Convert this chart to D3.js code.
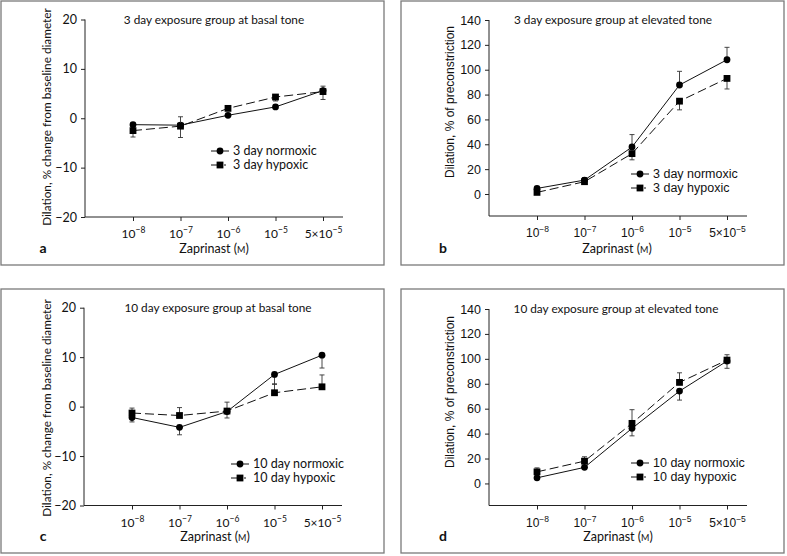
<!DOCTYPE html>
<html>
<head>
<meta charset="utf-8">
<script src="https://cdn.jsdelivr.net/npm/d3@7"></script>
<style>
  body { margin: 0; background: #fff; }
  text { fill: #111; }
</style>
</head>
<body>
<script>
// concentrations (x categories) and tick labels
let concs = ["1e-8", "1e-7", "1e-6", "1e-5", "5e-5"];
let tickBase = ["10", "10", "10", "10", "5\u00d710"];
let tickExp = ["\u22128", "\u22127", "\u22126", "\u22125", "\u22125"];

// panel a: 3 day, basal tone  (err = [down, up])
let aNorm = [-1.3, -1.4, 0.6, 2.3, 5.6];
let aNormErr = [[0, 0.3], [0, 0.3], [0, 0.2], [0, 0.3], [0, 0.9]];
let aHyp = [-2.5, -1.6, 2.0, 4.3, 5.4];
let aHypErr = [[1.3, 0], [2.3, 1.9], [0, 0.4], [0.8, 0], [1.6, 0]];

// panel b: 3 day, elevated tone
let bNorm = [4.5, 11.2, 37.8, 87.7, 108];
let bNormErr = [[0, 1], [0, 2], [0, 10], [0, 11], [0, 10]];
let bHyp = [1.3, 9.9, 32.5, 74.7, 93];
let bHypErr = [[1, 0], [1, 0], [5, 0], [7, 0], [8.5, 0]];

// panel c: 10 day, basal tone
let cNorm = [-2.2, -4.2, -1.0, 6.5, 10.4];
let cNormErr = [[0.9, 0], [1.5, 0], [1.3, 0], [2.0, 0], [2.6, 0]];
let cHyp = [-1.3, -1.8, -0.9, 2.8, 4.0];
let cHypErr = [[0, 1.0], [0, 1.6], [0, 1.8], [0, 1.8], [0, 2.4]];

// panel d: 10 day, elevated tone
let dNorm = [4.5, 12.9, 44.2, 74.1, 98.2];
let dNormErr = [[1.5, 0], [1.0, 0], [6, 0], [7.2, 0], [5.8, 0]];
let dHyp = [9.3, 17.9, 48.2, 81.1, 99];
let dHypErr = [[0, 3.2], [0, 3.5], [0, 11], [0, 7.7], [0, 4.3]];

let basalTicks = [-20, -10, 0, 10, 20];
let elevTicks = [0, 20, 40, 60, 80, 100, 120, 140];

let width = 787, height = 556;
let svg = d3.select("body").append("svg")
    .attr("width", width).attr("height", height);

let panels = [
  { x: 1, y: 1, letter: "a", title: "3 day exposure group at basal tone", day: 3,
    yLabel: "Dilation, % change from baseline diameter", ax: 84, top: 18.5, bottom: 216,
    domain: [-20, 20], ticks: basalTicks, font: "Lato", ylSize: 11.8, tx: 213, ty: 23, ylx: 46, yly: 116,
    legX: 219, legY: 150, xtx: 213,
    norm: aNorm, normErr: aNormErr, hyp: aHyp, hypErr: aHypErr },
  { x: 401, y: 1, letter: "b", title: "3 day exposure group at elevated tone", day: 3,
    yLabel: "Dilation, % of preconstriction", ax: 88, top: 19, bottom: 215,
    domain: [-17.7, 140], ticks: elevTicks, font: "Liberation Sans", ylSize: 12, tx: 212, ty: 23, ylx: 49, yly: 101,
    legX: 239, legY: 173, xtx: 216,
    norm: bNorm, normErr: bNormErr, hyp: bHyp, hypErr: bHypErr },
  { x: 1, y: 289, letter: "c", title: "10 day exposure group at basal tone", day: 10,
    yLabel: "Dilation, % change from baseline diameter", ax: 83, top: 18.7, bottom: 216.5,
    domain: [-20, 20], ticks: basalTicks, font: "Lato", ylSize: 11.8, tx: 217, ty: 23, ylx: 46, yly: 119,
    legX: 239, legY: 175, xtx: 214,
    norm: cNorm, normErr: cNormErr, hyp: cHyp, hypErr: cHypErr },
  { x: 401, y: 289, letter: "d", title: "10 day exposure group at elevated tone", day: 10,
    yLabel: "Dilation, % of preconstriction", ax: 88, top: 20, bottom: 216.5,
    domain: [-17.7, 140], ticks: elevTicks, font: "Liberation Sans", ylSize: 12, tx: 215, ty: 24, ylx: 49, yly: 103,
    legX: 239, legY: 174, xtx: 217,
    norm: dNorm, normErr: dNormErr, hyp: dHyp, hypErr: dHypErr }
];

panels.forEach(drawPanel);

function drawPanel(p) {
  let g = svg.append("g").attr("transform", "translate(" + p.x + "," + p.y + ")");

  g.append("rect").attr("x", 0).attr("y", 0).attr("width", 383).attr("height", 264)
    .attr("fill", "none").attr("stroke", "#7a7a7a").attr("stroke-width", 1.3);

  let xScale = d3.scalePoint().domain(concs).range([p.ax + 48, p.ax + 238]);
  let yScale = d3.scaleLinear().domain(p.domain).range([p.bottom, p.top]);

  // y axis
  let yAxis = d3.axisLeft(yScale).tickValues(p.ticks).tickSize(4).tickPadding(4)
    .tickFormat((d) => d < 0 ? "\u2212" + Math.abs(d) : d);
  let yg = g.append("g").attr("transform", "translate(" + p.ax + ",0)").call(yAxis);
  yg.select(".domain").remove();
  yg.selectAll("line").attr("stroke", "#222");
  yg.selectAll("text").style("font-family", p.font).style("font-size", "12.5px").attr("fill", "#111");
  g.append("line").attr("x1", p.ax).attr("x2", p.ax).attr("y1", yScale(p.domain[1])).attr("y2", p.bottom)
    .attr("stroke", "#222");

  // x axis
  let xAxis = d3.axisBottom(xScale).tickSize(4).tickPadding(5).tickFormat("");
  let xg = g.append("g").attr("transform", "translate(0," + p.bottom + ")").call(xAxis);
  xg.select(".domain").remove();
  xg.selectAll("line").attr("stroke", "#222");
  g.append("line").attr("x1", p.ax).attr("x2", p.ax + 258).attr("y1", p.bottom).attr("y2", p.bottom)
    .attr("stroke", "#222");
  xg.selectAll(".tick").append("text")
    .attr("y", 21).attr("text-anchor", "middle")
    .style("font-family", p.font).style("font-size", "12px").attr("fill", "#111")
    .each(function (d, i) {
      let t = d3.select(this);
      t.append("tspan").text(tickBase[i]);
      t.append("tspan").attr("dy", -5).style("font-size", "8.5px").text(tickExp[i]);
    });

  // title, labels
  g.append("text").attr("x", p.tx).attr("y", p.ty).attr("text-anchor", "middle")
    .style("font-family", "Lato").style("font-size", "11.8px").text(p.title);
  g.append("text").attr("transform", "translate(" + p.ylx + "," + p.yly + ") rotate(-90)")
    .attr("text-anchor", "middle").attr("dy", "0.35em")
    .style("font-family", p.font).style("font-size", p.ylSize + "px").text(p.yLabel);
  let xt = g.append("text").attr("x", p.xtx).attr("y", 252).attr("text-anchor", "middle")
    .style("font-family", "Lato").style("font-size", "12.5px");
  xt.append("tspan").text("Zaprinast (");
  xt.append("tspan").style("font-size", "9px").text("M");
  xt.append("tspan").text(")");
  g.append("text").attr("x", 42).attr("y", 252).attr("text-anchor", "middle")
    .style("font-family", "Lato").style("font-size", "14px").style("font-weight", "bold").text(p.letter);

  let series = [
    { vals: p.norm, err: p.normErr, dash: null, shape: "circle", name: p.day + " day normoxic" },
    { vals: p.hyp, err: p.hypErr, dash: "9,4", shape: "square", name: p.day + " day hypoxic" }
  ];

  let line = d3.line().x((d, i) => xScale(concs[i])).y((d) => yScale(d));

  series.forEach((s) => {
    // error bars
    let eb = g.append("g");
    s.vals.forEach((v, i) => {
      let x = xScale(concs[i]);
      let lo = v - s.err[i][0], hi = v + s.err[i][1];
      if (hi - lo <= 0) return;
      eb.append("line").attr("x1", x).attr("x2", x).attr("y1", yScale(lo)).attr("y2", yScale(hi))
        .attr("stroke", "#333").attr("stroke-width", 0.9);
      [lo, hi].forEach((e) => {
        if (e === v) return;
        eb.append("line").attr("x1", x - 2.5).attr("x2", x + 2.5).attr("y1", yScale(e)).attr("y2", yScale(e))
          .attr("stroke", "#333").attr("stroke-width", 0.9);
      });
    });
    g.append("path").datum(s.vals).attr("d", line).attr("fill", "none")
      .attr("stroke", "#111").attr("stroke-width", 1)
      .attr("stroke-dasharray", s.dash);
    drawMarkers(g, s.shape, s.vals.map((v, i) => [xScale(concs[i]), yScale(v)]));
  });

  // legend
  series.forEach((s, k) => {
    let ly = p.legY + k * 14;
    g.append("line").attr("x1", p.legX - 9).attr("x2", p.legX + (k ? 8 : 9)).attr("y1", ly).attr("y2", ly)
      .attr("stroke", "#111").attr("stroke-width", 1)
      .attr("stroke-dasharray", k ? "9,4,2,10" : null);
    drawMarkers(g, s.shape, [[p.legX, ly]]);
    g.append("text").attr("x", p.legX + 13).attr("y", ly).attr("dy", "0.35em")
      .style("font-family", p.font).style("font-size", "12.5px").text(s.name);
  });
}

function drawMarkers(g, shape, pts) {
  if (shape === "circle") {
    g.selectAll(null).data(pts).enter().append("circle")
      .attr("cx", (d) => d[0]).attr("cy", (d) => d[1]).attr("r", 3.4).attr("fill", "#000");
  } else {
    g.selectAll(null).data(pts).enter().append("rect")
      .attr("x", (d) => d[0] - 3.4).attr("y", (d) => d[1] - 3.4)
      .attr("width", 6.8).attr("height", 6.8).attr("fill", "#000");
  }
}
</script>
</body>
</html>
